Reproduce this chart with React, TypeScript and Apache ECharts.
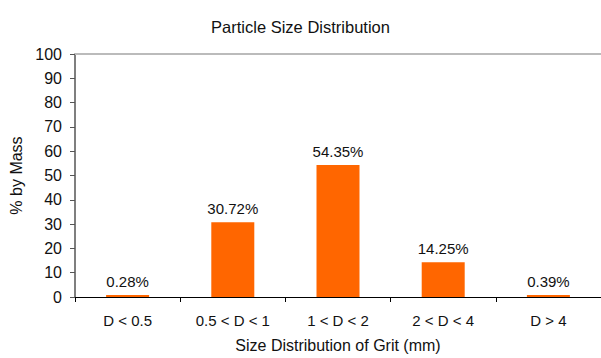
import React, { useEffect, useRef } from "react";
import * as echarts from "echarts";

// Size classes of the grit sample and their share of total mass (%)
const categories = ["D < 0.5", "0.5 < D < 1", "1 < D < 2", "2 < D < 4", "D > 4"];
const massPercent = [0.28, 30.72, 54.35, 14.25, 0.39];
const yTicks = { min: 0, max: 100, interval: 10 };

const FONT = "'Liberation Sans', Arial, Helvetica, sans-serif";

export default function App() {
  const ref = useRef<HTMLDivElement>(null);

  useEffect(() => {
    if (!ref.current) return;
    const chart = echarts.init(ref.current, null, { renderer: "svg" });
    chart.setOption({
      animation: false,
      backgroundColor: "#ffffff",
      textStyle: { fontFamily: FONT },
      title: {
        text: "Particle Size Distribution",
        left: "center",
        top: 13,
        textStyle: { fontFamily: FONT, fontSize: 16.5, fontWeight: "normal", color: "#111" },
      },
      grid: { left: 75, right: -2, top: 54, bottom: 57, containLabel: false },
      xAxis: {
        type: "category",
        data: categories,
        name: "Size Distribution of Grit (mm)",
        nameLocation: "middle",
        nameGap: 40,
        nameTextStyle: { fontFamily: FONT, fontSize: 16, color: "#111" },
        axisLine: { show: true, lineStyle: { color: "#000", width: 1 } },
        axisTick: { show: true, length: 5, alignWithLabel: false, lineStyle: { color: "#000" } },
        axisLabel: { fontFamily: FONT, fontSize: 15, color: "#111", margin: 16, interval: 0 },
        splitLine: { show: false },
      },
      yAxis: {
        type: "value",
        min: yTicks.min,
        max: yTicks.max,
        interval: yTicks.interval,
        name: "% by Mass",
        nameLocation: "middle",
        nameGap: 50,
        nameTextStyle: { fontFamily: FONT, fontSize: 16, color: "#111" },
        axisLine: { show: true, lineStyle: { color: "#555", width: 1.5 } },
        axisTick: { show: true, length: 5, inside: false, lineStyle: { color: "#555" } },
        axisLabel: { fontFamily: FONT, fontSize: 16, color: "#111", margin: 13 },
        splitLine: { show: false },
      },
      series: [
        {
          type: "bar",
          data: massPercent,
          barWidth: 43,
          barMinHeight: 2,
          itemStyle: { color: "#ff6600" },
          label: {
            show: true,
            position: "top",
            distance: 6,
            fontFamily: FONT,
            fontSize: 15,
            color: "#111",
            formatter: (p: any) => `${p.value.toFixed(2)}%`,
          },
          markLine: {
            silent: true,
            symbol: ["none", "none"],
            label: { show: false },
            lineStyle: { color: "#bbbbbb", type: "solid", width: 2 },
            data: [{ yAxis: yTicks.max }],
          },
        },
      ],
    });
    return () => chart.dispose();
  }, []);

  return (
    <div
      ref={ref}
      style={{ position: "fixed", left: 0, top: 0, width: 601, height: 358 }}
    />
  );
}
